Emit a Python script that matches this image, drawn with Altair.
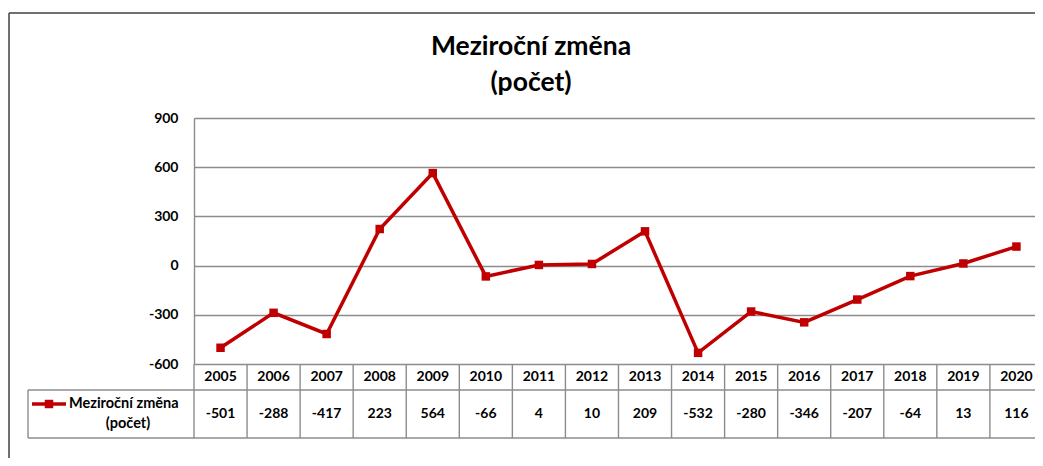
import altair as alt
import pandas as pd

years = [2005, 2006, 2007, 2008, 2009, 2010, 2011, 2012, 2013, 2014, 2015, 2016, 2017, 2018, 2019, 2020]
values = [-501, -288, -417, 223, 564, -66, 4, 10, 209, -532, -280, -346, -207, -64, 13, 116]
y_ticks = [-600, -300, 0, 300, 600, 900]
title_lines = ["Meziroční změna", "(počet)"]
series_name = ["Meziroční změna", "(počet)"]

RED = "#c00000"
GRID = "#8c8c8c"
FONT = "Lato"
W, H = 841, 246

df = pd.DataFrame({"year": years, "value": values})
df["label"] = df["value"].astype(str)
edges = pd.DataFrame({"edge": [y - 0.5 for y in years]})
one = pd.DataFrame({"k": ["a"]})

xscale = alt.Scale(domain=[2004.5, 2020.35], nice=False, zero=False)
yscale = alt.Scale(domain=[-600, 900], nice=False)

line = alt.Chart(df).mark_line(color=RED, strokeWidth=3.5).encode(
    x=alt.X("year:Q", scale=xscale, axis=None),
    y=alt.Y("value:Q", scale=yscale, axis=alt.Axis(
        values=y_ticks, title=None, grid=True, gridColor=GRID, gridWidth=1.4,
        ticks=False, domain=True, domainColor=GRID, domainWidth=1.4,
        labelExpr="'' + datum.value",
        labelFont=FONT, labelFontSize=14, labelFontWeight="bold", labelColor="#000",
        labelPadding=16)),
)
pts = alt.Chart(df).mark_square(color=RED, size=72, opacity=1).encode(
    x=alt.X("year:Q", scale=xscale, axis=None), y=alt.Y("value:Q", scale=yscale))

year_txt = alt.Chart(df).mark_text(font=FONT, fontSize=14, fontWeight="bold", color="#000",
                                   baseline="middle").encode(
    x=alt.X("year:Q", scale=xscale, axis=None), y=alt.value(H + 13), text="year:N")
val_txt = alt.Chart(df).mark_text(font=FONT, fontSize=14, fontWeight="bold", color="#000",
                                  baseline="middle").encode(
    x=alt.X("year:Q", scale=xscale, axis=None), y=alt.value(H + 50), text="label:N")

vlines = alt.Chart(edges).mark_rule(color=GRID, strokeWidth=1.4).encode(
    x=alt.X("edge:Q", scale=xscale, axis=None), y=alt.value(H), y2=alt.value(H + 74))


def vrule(color, width, **enc):
    return alt.Chart(one).mark_rule(color=color, strokeWidth=width).encode(detail="k:N", **enc)


hl1 = vrule(GRID, 1.4, x=alt.value(-166), x2=alt.value(W + 20), y=alt.value(H + 26))
hl2 = vrule(GRID, 1.4, x=alt.value(-166), x2=alt.value(W + 20), y=alt.value(H + 74))
vl_leg = vrule(GRID, 1.4, x=alt.value(-166), y=alt.value(H + 26), y2=alt.value(H + 74))
leg_line = vrule(RED, 3.5, x=alt.value(-162), x2=alt.value(-128), y=alt.value(H + 40))
frame_top = vrule("#404040", 1.5, x=alt.value(-185), x2=alt.value(W + 20), y=alt.value(-105))
frame_left = vrule("#404040", 1.5, x=alt.value(-185), y=alt.value(-105), y2=alt.value(H + 100))

leg_pt = alt.Chart(one).mark_square(color=RED, size=72, opacity=1).encode(
    x=alt.value(-145), y=alt.value(H + 40), detail="k:N")
leg_t1 = alt.Chart(one).mark_text(font=FONT, fontSize=14.5, fontWeight="bold", color="#000",
                                  align="left", baseline="middle", text=series_name[0]).encode(
    x=alt.value(-125), y=alt.value(H + 40), detail="k:N")
leg_t2 = alt.Chart(one).mark_text(font=FONT, fontSize=14.5, fontWeight="bold", color="#000",
                                  align="center", baseline="middle", text=series_name[1]).encode(
    x=alt.value(-66), y=alt.value(H + 60), detail="k:N")

title1 = alt.Chart(one).mark_text(font=FONT, fontSize=26.5, fontWeight="bold", color="#000",
                                  align="center", baseline="alphabetic", text=title_lines[0]).encode(
    x=alt.value(337), y=alt.value(-63), detail="k:N")
title2 = alt.Chart(one).mark_text(font=FONT, fontSize=26.5, fontWeight="bold", color="#000",
                                  align="center", baseline="alphabetic", text=title_lines[1]).encode(
    x=alt.value(337), y=alt.value(-27), detail="k:N")

chart = alt.layer(
    frame_top, frame_left, vlines, hl1, hl2, vl_leg,
    line, pts, year_txt, val_txt, leg_line, leg_pt, leg_t1, leg_t2, title1, title2,
).properties(
    width=W, height=H,
    padding={"left": 186, "top": 110, "right": 0, "bottom": 94},
    autosize=alt.AutoSizeParams(type="none"),
).configure_view(stroke=None)

chart.save("out.html", embed_options={"renderer": "svg", "actions": False})
